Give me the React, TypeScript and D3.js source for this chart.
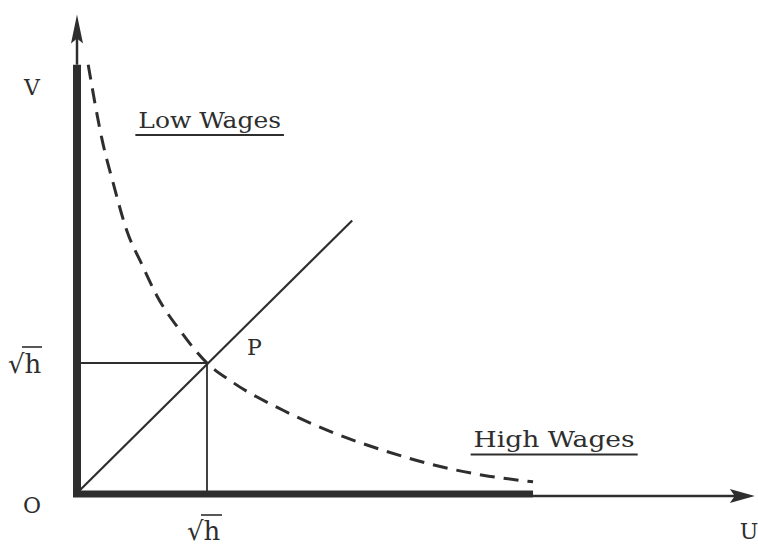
import React from "react";
import * as d3 from "d3";

// Dashed iso-curve (U, V), in units of √h
const curveU = [0.1, 0.21, 0.29, 0.39, 0.51, 0.62, 0.8, 1.0, 1.2, 1.58, 1.96, 2.33, 2.71, 3.09, 3.47];
const curveV = [3.26, 2.67, 2.36, 2.01, 1.74, 1.51, 1.24, 1.0, 0.85, 0.64, 0.47, 0.34, 0.23, 0.15, 0.1];
// 45° ray from origin
const diagonalU = [0, 2.1];
const diagonalV = [0, 2.08];
// equilibrium point P = (√h, √h)
const pointP = [1, 1];
// axes extents
const vAxisThickTop = 3.26;
const vAxisArrowTip = 3.64;
const uAxisThickEnd = 3.47;
const uAxisArrowTip = 5.15;
// region labels
const regionLabels = ["Low Wages", "High Wages"];
const regionU = [0.48, 3.02];
const regionV = [2.78, 0.36];
const regionWidth = [1.08, 1.22];

const W = 758;
const H = 547;
const INK = "#2e2e2e";
const FONT = "'DejaVu Serif', 'Liberation Serif', serif";

export default function App() {
  const x = d3.scaleLinear().domain([0, 1]).range([75, 207]);
  const y = d3.scaleLinear().domain([0, 1]).range([495, 363]);

  const curvePts: [number, number][] = curveU.map((u, i) => [x(u), y(curveV[i])]);
  const curvePath = d3.line().curve(d3.curveMonotoneX)(curvePts) || "";

  const diagPath = d3.line()(diagonalU.map((u, i) => [x(u), y(diagonalV[i])] as [number, number])) || "";

  const ox = x(0);
  const oy = y(0);
  const px = x(pointP[0]);
  const py = y(pointP[1]);

  const vTip = y(vAxisArrowTip);
  const uTip = x(uAxisArrowTip);
  const vArrow = d3.path();
  vArrow.moveTo(ox + 2, vTip);
  vArrow.lineTo(ox + 8, vTip + 29);
  vArrow.lineTo(ox + 2, vTip + 24);
  vArrow.lineTo(ox - 4, vTip + 29);
  vArrow.closePath();
  const uArrow = d3.path();
  uArrow.moveTo(uTip, oy + 1);
  uArrow.lineTo(uTip - 25, oy - 6);
  uArrow.lineTo(uTip - 20, oy + 1);
  uArrow.lineTo(uTip - 25, oy + 8);
  uArrow.closePath();

  return (
    <svg
      width={W}
      height={H}
      style={{ position: "absolute", left: 0, top: 0, background: "#fff" }}
    >
      {/* thin axis extensions */}
      <line x1={ox + 2} y1={y(vAxisThickTop)} x2={ox + 2} y2={vTip + 20} stroke={INK} strokeWidth={2.5} />
      <path d={vArrow.toString()} fill={INK} />
      <line x1={x(uAxisThickEnd)} y1={oy + 1} x2={uTip - 18} y2={oy + 1} stroke={INK} strokeWidth={2.5} />
      <path d={uArrow.toString()} fill={INK} />
      {/* thick axes */}
      <line x1={ox + 2} y1={oy + 2} x2={ox + 2} y2={y(vAxisThickTop)} stroke={INK} strokeWidth={8} />
      <line x1={ox - 2} y1={oy - 1} x2={x(uAxisThickEnd)} y2={oy - 1} stroke={INK} strokeWidth={7} />

      {/* reference lines to P */}
      <line x1={ox + 6} y1={py} x2={px} y2={py} stroke={INK} strokeWidth={2} />
      <line x1={px} y1={py} x2={px} y2={oy - 4} stroke={INK} strokeWidth={1.8} />
      {/* diagonal */}
      <path d={diagPath} stroke={INK} strokeWidth={2.2} fill="none" />
      {/* dashed curve */}
      <path d={curvePath} stroke={INK} strokeWidth={3} fill="none" strokeDasharray="15 9" />

      {/* labels */}
      <g fill={INK} fontFamily={FONT}>
        <text x={32} y={95} fontSize={22} textAnchor="middle">V</text>
        <text x={32} y={513} fontSize={22} textAnchor="middle">O</text>
        <text x={749} y={539} fontSize={22} textAnchor="middle">U</text>
        <text x={px + 40} y={py - 8} fontSize={22}>P</text>

        <text x={8} y={373} fontSize={26}>√h</text>
        <line x1={22} y1={347} x2={42} y2={347} stroke={INK} strokeWidth={1.6} />
        <text x={px - 20} y={540} fontSize={26}>√h</text>
        <line x1={px - 6} y1={515} x2={px + 15} y2={515} stroke={INK} strokeWidth={1.6} />

        {regionLabels.map((t, i) => (
          <g key={t}>
            <text
              x={x(regionU[i])}
              y={y(regionV[i])}
              fontSize={22}
              textLength={x(regionWidth[i]) - x(0)}
              lengthAdjust="spacingAndGlyphs"
            >
              {t}
            </text>
            <line
              x1={x(regionU[i]) - 3}
              y1={y(regionV[i]) + 7}
              x2={x(regionU[i]) + x(regionWidth[i]) - x(0) + 3}
              y2={y(regionV[i]) + 7}
              stroke={INK}
              strokeWidth={2}
            />
          </g>
        ))}
      </g>
    </svg>
  );
}
